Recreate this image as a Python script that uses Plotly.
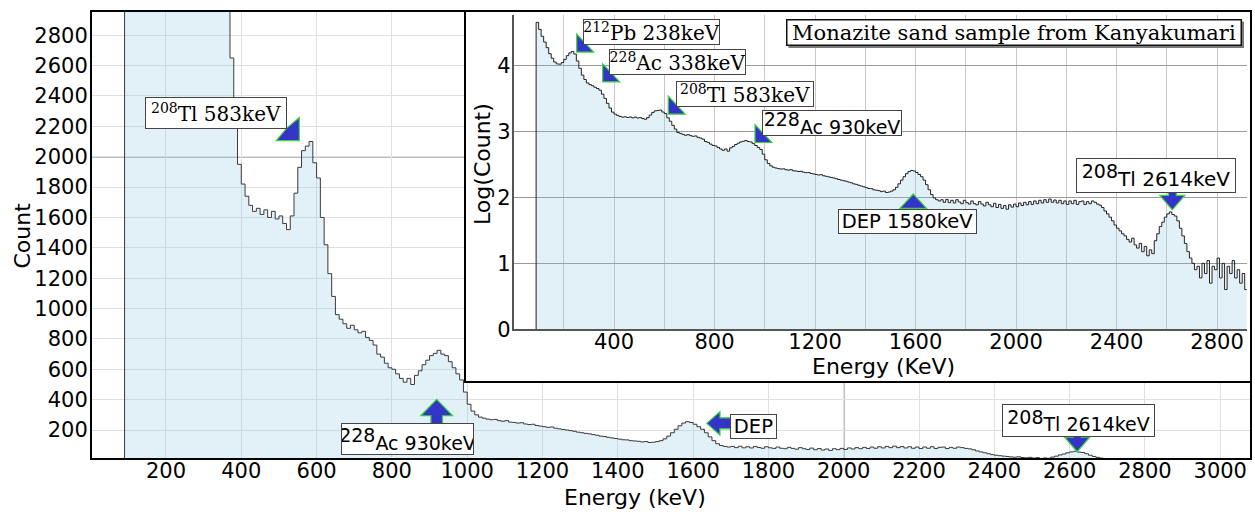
import numpy as np
import plotly.graph_objects as go

W, H = 1255, 514

# ---------------- data (10 keV bins, left edges) ----------------
bin_left_kev = list(range(90, 2920, 10))
last_edge_kev = 2920
counts = [
    44700, 35000, 27500, 22500, 18500, 15000, 12800, 11200, 10500, 10400,
    11000, 12300, 14000, 15400, 16200, 14800, 11600, 9000, 7100, 6100,
    5400, 5100, 4900, 4650, 4450, 4200, 3650, 3150, 2650, 2250,
    1950, 1820, 1740, 1680, 1640, 1660, 1620, 1650, 1600, 1640,
    1590, 1610, 1560, 1520, 1610, 1760, 1930, 2040, 2070, 2100,
    1960, 1860, 1600, 1420, 1230, 1080, 960, 930, 900, 870,
    890, 860, 840, 850, 810, 790, 760, 700, 680, 640,
    610, 600, 570, 540, 515, 540, 500, 560, 590, 630,
    660, 690, 705, 725, 700, 690, 650, 610, 570, 530,
    450, 370, 325, 300, 285, 278, 272, 268, 270, 262,
    258, 262, 252, 250, 246, 248, 240, 236, 238, 230,
    226, 222, 218, 220, 212, 208, 204, 200, 196, 192,
    186, 182, 178, 175, 170, 166, 160, 157, 152, 148,
    144, 140, 136, 135, 130, 128, 126, 122, 124, 118,
    120, 124, 130, 142, 160, 182, 205, 228, 246, 255,
    250, 238, 222, 205, 182, 155, 130, 110, 98, 92,
    88, 92, 84, 93, 83, 90, 82, 92, 85, 80,
    90, 83, 79, 88, 80, 77, 86, 79, 74, 84,
    77, 72, 81, 70, 78, 68, 75, 66, 77, 71,
    79, 72, 82, 75, 84, 77, 86, 78, 88, 80,
    90, 82, 92, 84, 94, 84, 91, 82, 90, 80,
    88, 78, 88, 80, 90, 78, 86, 88, 78, 86,
    80, 88, 84, 79, 76, 70, 62, 56, 50, 44,
    38, 34, 31, 28, 26, 23, 21, 24, 19, 17,
    20, 15, 18, 13, 16, 14, 22, 28, 36, 42,
    50, 56, 60, 55, 52, 44, 34, 26, 20, 15,
    12, 10, 8, 9, 6, 10, 7, 11, 5, 9,
    8, 12, 6, 10, 4, 9, 7, 11, 6, 8,
    5, 7, 4,
]

main_x_ticks = list(range(200, 3001, 200))
main_y_ticks = list(range(200, 2801, 200))
inset_x_grid = list(range(200, 2801, 200))
inset_x_labels = [str(v) if v % 400 == 0 else "" for v in inset_x_grid]
inset_y_ticks = [0, 1, 2, 3, 4]

# ---------------- helpers ----------------
def px_x(p):
    return p / W

def px_y(p):
    return 1 - p / H

x_step = [bin_left_kev[0]] + bin_left_kev + [last_edge_kev]
y_step = [0] + counts + [counts[-1]]
log_counts = list(np.log10(np.array(counts, dtype=float)))
ylog_step = [0.0] + log_counts + [log_counts[-1]]

FILL = "rgba(140,200,225,0.25)"
BLUE = "#3434c8"
GREEN = "#3dd43d"
SANS = "DejaVu Sans"
SERIF = "DejaVu Serif"

fig = go.Figure()
fig.add_trace(go.Scatter(
    x=x_step, y=y_step, mode="lines",
    line=dict(shape="hv", color="#3a3a3a", width=1),
    fill="tozeroy", fillcolor=FILL, xaxis="x", yaxis="y",
    hoverinfo="skip", showlegend=False))
fig.add_trace(go.Scatter(x=[None], y=[None], xaxis="x2", yaxis="y2",
                         hoverinfo="skip", showlegend=False))
fig.add_trace(go.Scatter(
    x=x_step, y=ylog_step, mode="lines",
    line=dict(shape="hv", color="#222222", width=1),
    fill="tozeroy", fillcolor=FILL, xaxis="x3", yaxis="y3",
    hoverinfo="skip", showlegend=False))

tickfont = dict(family=SANS, size=21, color="black")

fig.update_layout(
    width=W, height=H, margin=dict(l=0, r=0, t=0, b=0, autoexpand=False),
    paper_bgcolor="white", plot_bgcolor="white", showlegend=False,
    xaxis=dict(domain=[px_x(92), px_x(1250)], range=[3.5, 3079], anchor="y",
               tickmode="array", tickvals=main_x_ticks, showgrid=True,
               gridcolor="#e0e0e0", gridwidth=1, zeroline=False,
               showline=True, mirror=True, linecolor="black", linewidth=2,
               ticks="", tickfont=tickfont, automargin=False,
               ticklabelstandoff=-7),
    yaxis=dict(domain=[px_y(458), px_y(12)], range=[15.8, 2953], anchor="x",
               tickmode="array", tickvals=main_y_ticks, showgrid=True,
               gridcolor="#e0e0e0", gridwidth=1, zeroline=False,
               showline=True, mirror=True, linecolor="black", linewidth=2,
               ticks="", tickfont=tickfont, automargin=False,
               ticklabelstandoff=-2),
    xaxis2=dict(domain=[px_x(466), px_x(1250)], range=[0, 1], anchor="y2",
                showgrid=False, zeroline=False, showticklabels=False,
                showline=True, mirror=True, linecolor="black", linewidth=2,
                ticks="", fixedrange=True, automargin=False),
    yaxis2=dict(domain=[px_y(381), px_y(12)], range=[0, 1], anchor="x2",
                showgrid=False, zeroline=False, showticklabels=False,
                showline=True, mirror=True, linecolor="black", linewidth=2,
                ticks="", fixedrange=True, automargin=False),
    xaxis3=dict(domain=[px_x(513.5), px_x(1246.7)], range=[0, 2918],
                anchor="y3", tickmode="array", tickvals=inset_x_grid,
                ticktext=inset_x_labels, showgrid=True, gridcolor="#c8c8c8",
                zeroline=False, showline=True, linecolor="#555",
                linewidth=1.5, ticks="", tickfont=tickfont, automargin=False,
                ticklabelstandoff=-7),
    yaxis3=dict(domain=[px_y(329.3), px_y(15)], range=[0, 4.762],
                anchor="x3", tickmode="array", tickvals=inset_y_ticks,
                showgrid=True, gridcolor="#9a9a9a", zeroline=False,
                showline=True, linecolor="#555", linewidth=1.5, ticks="",
                tickfont=tickfont, automargin=False, ticklabelstandoff=-3),
)

shapes = []
# darker major grid lines at 2000
shapes.append(dict(type="line", xref="x", yref="y domain", x0=2000, x1=2000,
                   y0=0, y1=1, line=dict(color="#7a7a7a", width=1.5),
                   layer="below"))
shapes.append(dict(type="line", xref="x domain", yref="y", x0=0, x1=1,
                   y0=2000, y1=2000, line=dict(color="#7a7a7a", width=1.5),
                   layer="below"))
shapes.append(dict(type="line", xref="x3", yref="y3 domain", x0=2000,
                   x1=2000, y0=0, y1=1, line=dict(color="#777777", width=1.5),
                   layer="below"))


def path_from(points):
    return "M" + " L".join(f"{a},{b}" for a, b in points) + " Z"

arrow_diag = [(0, 0), (-23, 0), (-12.5, 12.5), (0, 23)]
arrow_tri = [(0, 0), (0, 18), (17, 0)]
arrow_up_main = [(0, 0), (16, -16.4), (5.8, -16.4), (5.8, -27), (-5.8, -27),
                 (-5.8, -16.4), (-16, -16.4)]
arrow_up_inset = [(0, 0), (13.3, -14.3), (-13.3, -14.3)]
arrow_left = [(0, 0), (13.3, 11.7), (13.3, 5.5), (27, 5.5), (27, -5.5),
              (13.3, -5.5), (13.3, -11.7)]
arrow_down = [(0, 0), (-12.5, 14.5), (-4, 14.5), (-4, 19), (4, 19),
              (4, 14.5), (12.5, 14.5)]

arrows = [
    ("x", "y", 554, 2106, arrow_diag),
    ("x", "y", 919, 402, arrow_up_main),
    ("x", "y", 1636, 244, arrow_left),
    ("x", "y", 2620, 57, arrow_down),
    ("x3", "y3", 251.5, 4.2, arrow_tri),
    ("x3", "y3", 355, 3.75, arrow_tri),
    ("x3", "y3", 616, 3.26, arrow_tri),
    ("x3", "y3", 961, 2.83, arrow_tri),
    ("x3", "y3", 1591, 2.05, arrow_up_inset),
    ("x3", "y3", 2622, 1.81, arrow_down),
]
for xr, yr, xa, ya, pts in arrows:
    shapes.append(dict(type="path", xref=xr, yref=yr, xsizemode="pixel",
                       ysizemode="pixel", xanchor=xa, yanchor=ya,
                       path=path_from(pts), fillcolor=BLUE,
                       line=dict(color=GREEN, width=1.2), layer="above"))

# shadow of inset title box
shapes.append(dict(type="rect", xref="paper", yref="paper",
                   x0=px_x(788.5), x1=px_x(1244), y0=px_y(48), y1=px_y(21.5),
                   fillcolor="#7a7a7a", line=dict(width=0), layer="above"))
fig.update_layout(shapes=shapes)

annotations = []

def box(text, xr, yr, x, y, w, h, family, size=19, border="#444", bw=1):
    annotations.append(dict(text=text, xref=xr, yref=yr, x=x, y=y,
                            xanchor="center", yanchor="middle",
                            showarrow=False, bgcolor="white",
                            bordercolor=border, borderwidth=bw, borderpad=0,
                            width=w, height=h,
                            font=dict(family=family, size=size,
                                      color="black")))

big_sup = "<sup><span style='font-size:19px'>{}</span></sup>"

box("<sup>208</sup>Tl 583keV", "x", "y", 331.5, 2291, 140, 30, SERIF, 20)
box(big_sup.format("228") + "Ac 930keV", "x", "y", 841, 140, 131, 30, SANS)
box("DEP", "x", "y", 1760, 221, 45, 23, SANS, 19.5)
box(big_sup.format("208") + "Tl 2614keV", "x", "y", 2623, 266, 151, 31, SANS)

box("Monazite sand sample from Kanyakumari", "paper", "paper",
    px_x(1013.9), px_y(32.3), 453, 24, SERIF, 21, border="#111", bw=1.5)
box("<sup>212</sup>Pb 238keV", "x3", "y3", 551, 4.505, 135, 24, SERIF, 20)
box("<sup>228</sup>Ac 338keV", "x3", "y3", 653, 4.047, 135, 24, SERIF, 20)
box("<sup>208</sup>Tl 583keV", "x3", "y3", 921, 3.57, 136, 24, SERIF, 20)
box(big_sup.format("228") + "Ac 930keV", "x3", "y3", 1266, 3.126, 138, 24,
    SANS)
box("DEP 1580keV", "x3", "y3", 1569, 1.633, 137, 23, SANS, 19.5)
box(big_sup.format("208") + "Tl 2614keV", "x3", "y3", 2556, 2.335, 158, 33,
    SANS, 20)

def title(text, x, y, angle=0):
    annotations.append(dict(text=text, xref="paper", yref="paper", x=x, y=y,
                            xanchor="center", yanchor="middle",
                            showarrow=False, textangle=angle,
                            font=dict(family=SANS, size=22, color="black")))

title("Count", px_x(22.5), px_y(236), -90)
title("Energy (keV)", px_x(635), px_y(497))
title("Log(Count)", px_x(482), px_y(164), -90)
title("Energy (KeV)", px_x(883), px_y(366))

fig.update_layout(annotations=annotations)
fig.write_html(
    "out.html",
    config={"displayModeBar": False},
    post_script="document.body.style.margin='0';"
                "document.body.style.overflow='hidden';")
